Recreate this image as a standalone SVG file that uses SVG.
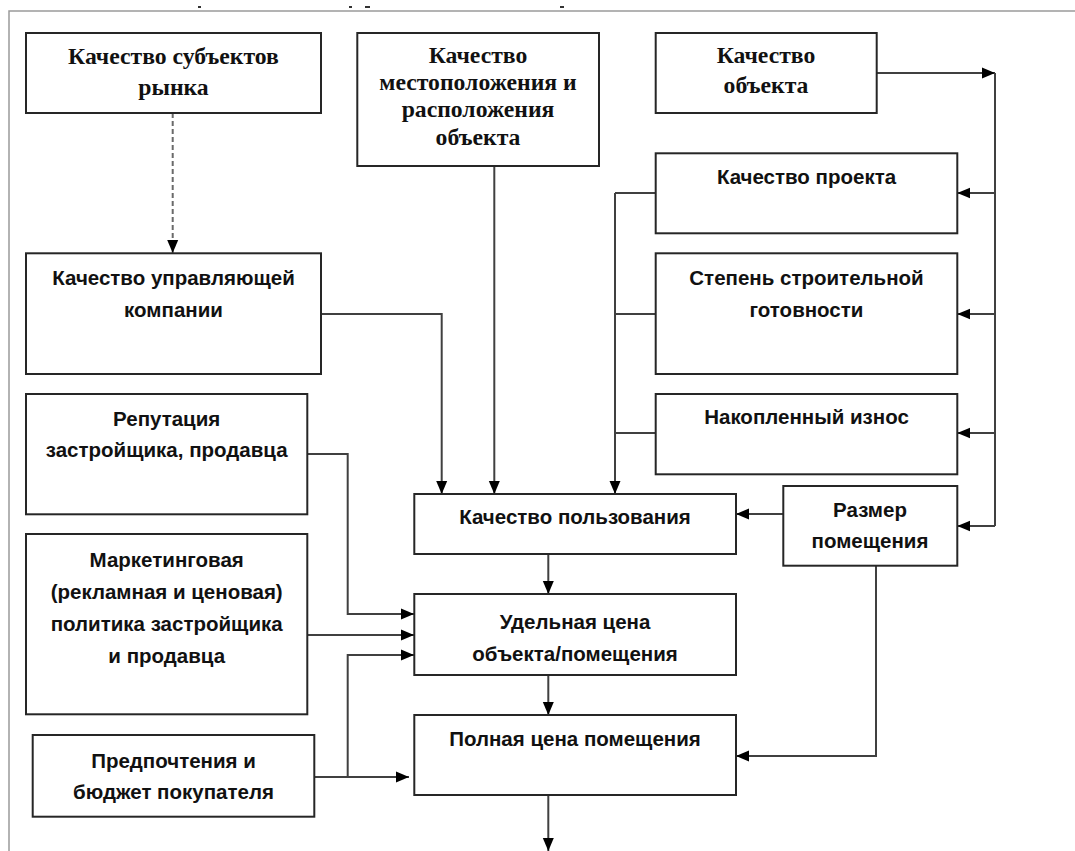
<svg xmlns="http://www.w3.org/2000/svg" width="1075" height="851" viewBox="0 0 1075 851">
<style>
.box{fill:#fff;stroke:#262626;stroke-width:2}
.serif{font-family:"Liberation Serif","Times New Roman",serif;font-weight:bold;font-size:23.7px;fill:#111;text-anchor:middle}
.sans{font-family:"Liberation Sans",Arial,sans-serif;font-weight:bold;font-size:20.5px;fill:#111;text-anchor:middle}
.ln{fill:none;stroke:#404040;stroke-width:2}
.arr{marker-end:url(#ah)}
.dash{stroke:#6a6a6a;stroke-dasharray:5 3}
</style>
<defs>
<marker id="ah" markerUnits="userSpaceOnUse" markerWidth="13" markerHeight="13" viewBox="0 0 13 13" refX="13" refY="6.5" orient="auto">
<path d="M0,1 L13,6.5 L0,12 Z" fill="#000"/>
</marker>
</defs>
<rect width="1075" height="851" fill="#fff"/>
<g id="frame">
<path d="M9,851 V11 H1075" fill="none" stroke="#9a9a9a" stroke-width="1.5"/>
<rect x="198" y="6" width="3" height="2" fill="#333"/>
<rect x="349" y="6" width="3" height="2" fill="#333"/>
<rect x="365" y="6" width="5" height="2" fill="#333"/>
<rect x="560" y="6" width="4" height="2" fill="#333"/>
</g>
<g id="connectors">
<path class="ln dash arr" d="M172.7,113 V253"/>
<path class="ln arr" d="M494.3,166 V494"/>
<path class="ln arr" d="M321,314 H441.7 V494"/>
<path class="ln" d="M656,193 H615 M656,314 H615 M656,433 H615"/>
<path class="ln arr" d="M615,193 V494"/>
<path class="ln arr" d="M877,73 H995"/>
<path class="ln" d="M995,73 V526"/>
<path class="ln arr" d="M995,193 H957.3"/>
<path class="ln arr" d="M995,314 H957.3"/>
<path class="ln arr" d="M995,433 H957.3"/>
<path class="ln arr" d="M995,526 H957.3"/>
<path class="ln arr" d="M783,514 H736"/>
<path class="ln arr" d="M876,566 V756 H736"/>
<path class="ln arr" d="M548.3,554 V594"/>
<path class="ln arr" d="M548.3,675 V715"/>
<path class="ln arr" d="M548.3,795 V851"/>
<path class="ln arr" d="M307,454 H347.7 V614 H414"/>
<path class="ln arr" d="M307,635 H414"/>
<path class="ln arr" d="M314,777 H409"/>
<path class="ln arr" d="M347.7,777 V655 H414"/>
</g>
<g id="n-subjects">
<rect class="box" x="26" y="33" width="295" height="80"/>
<text class="serif" x="173.5" y="64">Качество субъектов</text>
<text class="serif" x="173.5" y="95">рынка</text>
</g>
<g id="n-location">
<rect class="box" x="357.3" y="33" width="241.7" height="133"/>
<text class="serif" x="478" y="63">Качество</text>
<text class="serif" x="478" y="90">местоположения и</text>
<text class="serif" x="478" y="117">расположения</text>
<text class="serif" x="478" y="145">объекта</text>
</g>
<g id="n-object">
<rect class="box" x="655.7" y="33" width="221" height="80"/>
<text class="serif" x="766" y="63">Качество</text>
<text class="serif" x="766" y="93">объекта</text>
</g>
<g id="n-project">
<rect class="box" x="655.7" y="153.3" width="301.6" height="80"/>
<text class="sans" x="806.5" y="184">Качество проекта</text>
</g>
<g id="n-readiness">
<rect class="box" x="655.7" y="253.3" width="301.6" height="120.7"/>
<text class="sans" x="806.5" y="285">Степень строительной</text>
<text class="sans" x="806.5" y="316.7">готовности</text>
</g>
<g id="n-wear">
<rect class="box" x="655.7" y="394" width="301.6" height="80.3"/>
<text class="sans" x="806.5" y="424.3">Накопленный износ</text>
</g>
<g id="n-size">
<rect class="box" x="783.3" y="486" width="174" height="79.7"/>
<text class="sans" x="870" y="516.7">Размер</text>
<text class="sans" x="870" y="547.7">помещения</text>
</g>
<g id="n-management">
<rect class="box" x="26" y="253.3" width="295" height="120.7"/>
<text class="sans" x="173.5" y="285">Качество управляющей</text>
<text class="sans" x="173.5" y="316.7">компании</text>
</g>
<g id="n-reputation">
<rect class="box" x="26" y="394" width="281.3" height="120.3"/>
<text class="sans" x="166.7" y="426">Репутация</text>
<text class="sans" x="166.7" y="457.3">застройщика, продавца</text>
</g>
<g id="n-marketing">
<rect class="box" x="26" y="534" width="281.3" height="180.3"/>
<text class="sans" x="166.7" y="566.7">Маркетинговая</text>
<text class="sans" x="166.7" y="599">(рекламная и ценовая)</text>
<text class="sans" x="166.7" y="631">политика застройщика</text>
<text class="sans" x="166.7" y="663.3">и продавца</text>
</g>
<g id="n-preferences">
<rect class="box" x="32.7" y="735" width="281.6" height="81.7"/>
<text class="sans" x="173.5" y="768">Предпочтения и</text>
<text class="sans" x="173.5" y="799">бюджет покупателя</text>
</g>
<g id="n-usage">
<rect class="box" x="414.3" y="494" width="321.7" height="60"/>
<text class="sans" x="575" y="524.3">Качество пользования</text>
</g>
<g id="n-unitprice">
<rect class="box" x="414.3" y="594" width="321.7" height="81"/>
<text class="sans" x="575" y="629">Удельная цена</text>
<text class="sans" x="575" y="661">объекта/помещения</text>
</g>
<g id="n-fullprice">
<rect class="box" x="414.3" y="715" width="321.7" height="80"/>
<text class="sans" x="575" y="745.7">Полная цена помещения</text>
</g>
</svg>
